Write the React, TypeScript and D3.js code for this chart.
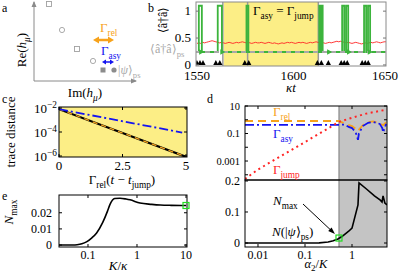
import React from "react";
import * as d3 from "d3";

const FONT = "'Liberation Serif', 'Times New Roman', serif";
const ORANGE = "#f7a21b";
const BLUE = "#1414f0";
const RED = "#ff2424";
const GREEN = "#3cb43c";
const YELLOW = "#fcee86";
const GRAYBG = "#c4c4c4";

// ---------- Panel a (schematic spectrum) ----------
const aOpenSquares: [number, number][] = [[1.5, 7.7], [4.3, 3.2]];
const aOpenCircles: [number, number][] = [[2.8, 5.1], [5.9, 2.0]];
const aPsSquare: [number, number] = [6.9, 1.1];
const aPsCircle: [number, number] = [8.0, 1.1];
const aRelArrow = [5.9, 8.0, 4.1];
const aAsyArrow = [6.8, 8.0, 1.9];

// ---------- Panel b (trajectory) ----------
const bXTicks = [1550, 1600, 1650];
const bYTicks = [0, 0.5, 1];
const bYTickLabels = ["0", "0.5", "1"];
const bPsLevel = 0.24;
const bYellowSpan = [1564.2, 1614.2];
const bGrayLines = [1563.7, 1576.8, 1614.2];
const bPulseStart = [1551.0, 1561.0, 1576.2, 1614.7, 1615.8, 1626.8, 1628.9, 1638.4, 1640.5];
const bPulseEnd = [1552.6, 1563.2, 1577.2, 1615.3, 1616.5, 1627.9, 1630.0, 1639.5, 1641.6];
const bPulseTop = 1.1;
const bGreenArrows = [1553.8, 1565.0, 1621.5, 1632.0, 1643.0];
const bJumpTimes = [1550.0, 1551.6, 1553.2, 1560.0, 1562.1, 1575.3, 1577.4, 1613.7, 1615.8, 1619.5, 1626.3, 1627.9, 1629.5, 1637.4, 1639.0, 1640.6];
const bRedStart = 1550;
const bRedStep = 1;
const bRedValues = [
  0.40, 0.41, 0.40, 0.42, 0.41, 0.42, 0.43, 0.44, 0.45, 0.44,
  0.43, 0.42, 0.41, 0.42, 0.41, 0.40, 0.41, 0.42, 0.41, 0.40,
  0.41, 0.42, 0.41, 0.42, 0.43, 0.42, 0.41, 0.42, 0.41, 0.40,
  0.41, 0.42, 0.41, 0.41, 0.42, 0.41, 0.40, 0.41, 0.42, 0.41,
  0.40, 0.41, 0.40, 0.39, 0.40, 0.41, 0.40, 0.41, 0.42, 0.41,
  0.42, 0.41, 0.40, 0.41, 0.42, 0.41, 0.42, 0.41, 0.40, 0.41,
  0.42, 0.41, 0.42, 0.43, 0.42, 0.41, 0.42, 0.41, 0.40, 0.41,
  0.42, 0.41, 0.42, 0.43, 0.44, 0.43, 0.44, 0.43, 0.42, 0.41,
  0.42, 0.41, 0.40, 0.41, 0.42, 0.41, 0.40, 0.39, 0.40, 0.41,
  0.40, 0.41, 0.42, 0.41, 0.42, 0.43, 0.42, 0.41, 0.42, 0.43,
  0.43,
];

// ---------- Panel c (trace distance) ----------
const cXTicks = [0, 2.5, 5];
const cXTickLabels = ["0", "2.5", "5"];
const cYTicks = [1e-2, 1e-4, 1e-6];
const cYTickExp = ["−2", "−4", "−6"];
const cBlack: [number, number][] = [[0, 8e-3], [5, 8.5e-7]];
const cOrange: [number, number][] = [[0, 8e-3], [5, 8.5e-7]];
const cBlue: [number, number][] = [[0, 8e-3], [4.85, 9e-5]];

// ---------- Panel d (rates and N vs alpha2/K) ----------
const dXTicks = [0.01, 0.1, 1];
const dXTickLabels = ["0.01", "0.1", "1"];
const dTopTicks = [10, 1, 0.1, 0.01, 0.001, 0.0001];
const dTopLabels: Record<string, string> = { "10": "10", "0.1": "0.1", "0.001": "0.001" };
const dBotTicks = [0, 0.1, 0.2];
const dBotTickLabels = ["0", "0.1", "0.2"];
const dGrayStart = 0.528;
const dRel: [number, number][] = [
  [0.00529, 0.81], [0.5, 0.81], [0.53, 0.81], [0.65, 0.6], [0.8, 0.45], [1.0, 0.35],
  [1.2, 0.22], [1.34, 0.15], [1.45, 0.22], [1.7, 0.4], [2.2, 0.65], [2.8, 0.75],
  [3.9, 0.55], [4.6, 0.4], [5.3, 0.65],
];
const dAsy: [number, number][] = [
  [0.00529, 0.42], [0.5, 0.42], [0.53, 0.42], [0.7, 0.45], [0.85, 0.3], [1.0, 0.25],
  [1.2, 0.12], [1.34, 0.035], [1.4, 0.1], [1.7, 0.35], [2.2, 0.6], [2.8, 0.7],
  [3.9, 0.5], [4.4, 0.25], [4.6, 0.12], [5.3, 0.5],
];
const dJump: [number, number][] = [
  [0.00529, 5e-5], [0.01, 2.4e-4], [0.03, 2.2e-3], [0.1, 2.4e-2], [0.3, 0.22],
  [0.53, 0.7], [1, 1.4], [2, 2.8], [5.55, 5.5],
];
const dNmax: [number, number][] = [
  [0.00529, 0], [0.15, 0], [0.2, 0.0005], [0.31, 0.003], [0.4, 0.007], [0.5, 0.013],
  [0.6, 0.02], [0.71, 0.029], [0.85, 0.038], [1.0, 0.048], [1.34, 0.123], [1.41, 0.194],
  [2.0, 0.175], [3.0, 0.152], [4.0, 0.138], [4.35, 0.132], [4.57, 0.152], [5.0, 0.129],
  [5.55, 0.123],
];
const dPsPoint: [number, number] = [0.528, 0.016];

// ---------- Panel e (Nmax vs K/kappa) ----------
const eXTicks = [0.1, 1, 10];
const eXTickLabels = ["0.1", "1", "10"];
const eYTicks = [0, 0.01, 0.02];
const eYTickLabels = ["0", "0.01", "0.02"];
const eCurve: [number, number][] = [
  [0.0256, 0], [0.05, 0], [0.06, 0.0002], [0.075, 0.0008], [0.093, 0.002], [0.12, 0.0045],
  [0.15, 0.0075], [0.2, 0.014], [0.25, 0.021], [0.28, 0.025], [0.35, 0.0288], [0.45, 0.029],
  [0.6, 0.0285], [0.72, 0.028], [1.15, 0.026], [2.0, 0.0252], [3, 0.0248], [5, 0.0246], [10, 0.0245],
];
const ePoint: [number, number] = [10, 0.0245];

type Part = { t: string; s?: "sub" | "sup"; i?: boolean };
function Rich(props: {
  x: number; y: number; parts: Part[]; size: number; fill?: string;
  anchor?: "start" | "middle" | "end"; transform?: string;
}) {
  const { x, y, parts, size, fill = "#000", anchor = "start", transform } = props;
  let cur = 0;
  const spans = parts.map((p, k) => {
    const target = p.s === "sub" ? size * 0.3 : p.s === "sup" ? -size * 0.42 : 0;
    const dy = target - cur;
    cur = target;
    return (
      <tspan key={k} dy={dy} fontSize={p.s ? size * 0.72 : size} fontStyle={p.i ? "italic" : "normal"}>
        {p.t}
      </tspan>
    );
  });
  return (
    <text x={x} y={y} fontSize={size} fill={fill} textAnchor={anchor} transform={transform}>
      {spans}
    </text>
  );
}

function tri(cx: number, cy: number, dirX: number, dirY: number, len: number, half: number) {
  const nx = -dirY, ny = dirX;
  const bx = cx - dirX * len, by = cy - dirY * len;
  return `M${cx},${cy}L${bx + nx * half},${by + ny * half}L${bx - nx * half},${by - ny * half}Z`;
}

export default function App() {
  // a
  const ax = d3.scaleLinear().domain([0, 10]).range([34, 134]);
  const ay = d3.scaleLinear().domain([0, 8]).range([81, 1]);

  // b
  const bx = d3.scaleLinear().domain([1549.5, 1650]).range([196, 386]);
  const by = d3.scaleLinear().domain([-0.02, 1.17]).range([66, 2]);
  const greenPts: [number, number][] = [[1549.5, bPsLevel]];
  bPulseStart.forEach((s, i) => {
    greenPts.push([s, bPsLevel], [s, bPulseTop], [bPulseEnd[i], bPulseTop], [bPulseEnd[i], bPsLevel]);
  });
  greenPts.push([1650, bPsLevel]);
  const bLine = d3.line<[number, number]>().x((d) => bx(d[0])).y((d) => by(d[1]));
  const redLine = d3
    .line<number>()
    .x((_, i) => bx(bRedStart + i * bRedStep))
    .y((v) => by(v));

  // c
  const cx = d3.scaleLinear().domain([0, 5]).range([59, 186]);
  const cy = d3.scaleLog().domain([1e-6, 1e-2]).range([156, 108]);
  const cLine = d3.line<[number, number]>().x((d) => cx(d[0])).y((d) => cy(d[1]));

  // d
  const dx = d3.scaleLog().domain([0.00529, 5.55]).range([245, 387]);
  const dyTop = d3.scaleLog().domain([4.17e-5, 10]).range([180, 106]);
  const dyBot = d3.scaleLinear().domain([-0.0129, 0.2032]).range([247, 180]);
  const dTopLine = d3.line<[number, number]>().x((d) => dx(d[0])).y((d) => dyTop(d[1]));
  const dBotLine = d3.line<[number, number]>().x((d) => dx(d[0])).y((d) => dyBot(d[1]));

  // e
  const ex = d3.scaleLog().domain([0.0256, 10.48]).range([59, 187]);
  const ey = d3.scaleLinear().domain([-0.0012, 0.031]).range([247, 195]);
  const eLine = d3
    .line<[number, number]>()
    .x((d) => ex(d[0]))
    .y((d) => ey(d[1]))
    .curve(d3.curveMonotoneX);

  const axGray = "#8a8a8a";
  const ptGray = "#a0a0a0";

  // annotation arrow in d
  const annFrom = [303, 204];
  const annTo = [dx(dPsPoint[0]) - 4, dyBot(dPsPoint[1]) - 4];
  const adx = annTo[0] - annFrom[0], ady = annTo[1] - annFrom[1];
  const alen = Math.hypot(adx, ady);
  const ux = adx / alen, uy = ady / alen;

  return (
    <svg
      width={399}
      height={273}
      style={{ position: "absolute", left: 0, top: 0, background: "#fff" }}
      fontFamily={FONT}
    >
      <defs>
        <clipPath id="clipB"><rect x={196} y={2} width={190} height={64} /></clipPath>
        <clipPath id="clipC"><rect x={59} y={107} width={128} height={50} /></clipPath>
        <clipPath id="clipDT"><rect x={245} y={106} width={142} height={74} /></clipPath>
        <clipPath id="clipDB"><rect x={245} y={180} width={142} height={67} /></clipPath>
        <clipPath id="clipE"><rect x={59} y={195} width={128} height={52} /></clipPath>
      </defs>

      {/* ===== Panel a ===== */}
      <text x={2} y={12} fontSize={12}>a</text>
      <line x1={ax(0)} y1={ay(0)} x2={ax(0)} y2={ay(7.9)} stroke={axGray} strokeWidth={1} />
      <path d={tri(ax(0), ay(8.0), 0, -1, 6, 2.5)} fill={axGray} />
      <line x1={ax(0)} y1={ay(0)} x2={ax(10.2)} y2={ay(0)} stroke={axGray} strokeWidth={1} />
      <path d={tri(ax(10.3), ay(0), 1, 0, 6, 2.5)} fill={axGray} />
      {aOpenSquares.map((p, i) => (
        <rect key={"s" + i} x={ax(p[0]) - 2.5} y={ay(p[1]) - 2.5} width={5} height={5} fill="none" stroke={ptGray} strokeWidth={0.9} />
      ))}
      {aOpenCircles.map((p, i) => (
        <circle key={"c" + i} cx={ax(p[0])} cy={ay(p[1])} r={2.6} fill="none" stroke={ptGray} strokeWidth={0.9} />
      ))}
      <rect x={ax(aPsSquare[0]) - 2.5} y={ay(aPsSquare[1]) - 2.5} width={5} height={5} fill="#8c8c8c" />
      <circle cx={ax(aPsCircle[0])} cy={ay(aPsCircle[1])} r={2.6} fill="#8c8c8c" />
      {/* Gamma_rel arrow */}
      <line x1={ax(aRelArrow[0]) + 4} y1={ay(aRelArrow[2])} x2={ax(aRelArrow[1]) - 4} y2={ay(aRelArrow[2])} stroke={ORANGE} strokeWidth={2.5} />
      <path d={tri(ax(aRelArrow[0]), ay(aRelArrow[2]), -1, 0, 6, 3.5)} fill={ORANGE} />
      <path d={tri(ax(aRelArrow[1]), ay(aRelArrow[2]), 1, 0, 6, 3.5)} fill={ORANGE} />
      <Rich x={100} y={32} size={13} fill={ORANGE} parts={[{ t: "Γ" }, { t: "rel", s: "sub" }]} />
      {/* Gamma_asy arrow */}
      <line x1={ax(aAsyArrow[0]) + 3} y1={ay(aAsyArrow[2])} x2={ax(aAsyArrow[1]) - 3} y2={ay(aAsyArrow[2])} stroke={BLUE} strokeWidth={1.5} />
      <path d={tri(ax(aAsyArrow[0]), ay(aAsyArrow[2]), -1, 0, 4, 2.5)} fill={BLUE} />
      <path d={tri(ax(aAsyArrow[1]), ay(aAsyArrow[2]), 1, 0, 4, 2.5)} fill={BLUE} />
      <Rich x={101} y={55} size={13} fill={BLUE} parts={[{ t: "Γ" }, { t: "asy", s: "sub" }]} />
      <Rich x={118} y={74} size={12} fill="#aaaaaa" parts={[{ t: "|" }, { t: "ψ", i: true }, { t: "⟩" }, { t: "ps", s: "sub" }]} />
      <Rich x={26} y={50} size={13} anchor="middle" transform="rotate(-90 26 50)"
        parts={[{ t: "Re(" }, { t: "h", i: true }, { t: "μ", s: "sub", i: true }, { t: ")" }]} />
      <Rich x={85} y={97} size={13} anchor="middle"
        parts={[{ t: "Im(" }, { t: "h", i: true }, { t: "μ", s: "sub", i: true }, { t: ")" }]} />

      {/* ===== Panel b ===== */}
      <text x={148} y={12} fontSize={12}>b</text>
      <rect x={bx(bYellowSpan[0])} y={2} width={bx(bYellowSpan[1]) - bx(bYellowSpan[0])} height={64} fill={YELLOW} />
      {bGrayLines.map((t, i) => (
        <line key={i} x1={bx(t)} x2={bx(t)} y1={2} y2={66} stroke="#9a9a9a" strokeWidth={1.5} />
      ))}
      <g clipPath="url(#clipB)">
        <path d={redLine(bRedValues) || ""} fill="none" stroke={RED} strokeWidth={0.9} />
        <path d={bLine(greenPts) || ""} fill="none" stroke={GREEN} strokeWidth={1.8} strokeLinejoin="miter" />
        <line x1={196} x2={386} y1={by(bPsLevel)} y2={by(bPsLevel)} stroke="#a8a8a8" strokeWidth={2} strokeDasharray="5,4" />
        {bGreenArrows.map((t, i) => (
          <path key={i} d={tri(bx(t), by(bPsLevel), 1, 0, 5, 2.8)} fill={GREEN} />
        ))}
        {bJumpTimes.map((t, i) => (
          <path key={i} d={tri(bx(t), 60, 0, -1, 5, 2.6)} fill="#000" />
        ))}
      </g>
      <rect x={196} y={2} width={190} height={64} fill="none" stroke="#8a8a8a" strokeWidth={1} />
      {bYTicks.map((v, i) => (
        <g key={i}>
          <line x1={196} x2={199} y1={by(v)} y2={by(v)} stroke="#777" />
          <line x1={383} x2={386} y1={by(v)} y2={by(v)} stroke="#777" />
          <text x={191} y={by(v) + 4} fontSize={13} textAnchor="end">{bYTickLabels[i]}</text>
        </g>
      ))}
      {bXTicks.map((v, i) => (
        <text key={i} x={bx(v) + (i === 0 ? 0 : i === 1 ? 2 : -1)} y={79.5} fontSize={13} textAnchor="middle">{v}</text>
      ))}
      <Rich x={291} y={92} size={13} anchor="middle" parts={[{ t: "κt", i: true }]} />
      <Rich x={253} y={15} size={13}
        parts={[{ t: "Γ" }, { t: "asy", s: "sub" }, { t: " = Γ" }, { t: "jump", s: "sub" }]} />
      <text x={167} y={20} fontSize={12} textAnchor="middle" transform="rotate(-90 167 20)">⟨â†â⟩</text>
      <Rich x={150} y={53} size={12} fill="#a8a8a8" parts={[{ t: "⟨â†â⟩" }, { t: "ps", s: "sub" }]} />

      {/* ===== Panel c ===== */}
      <text x={2} y={103} fontSize={12}>c</text>
      <rect x={59} y={107} width={128} height={50} fill={YELLOW} />
      <g clipPath="url(#clipC)">
        <path d={cLine(cBlack) || ""} fill="none" stroke="#000" strokeWidth={2.2} />
        <path d={cLine(cOrange) || ""} fill="none" stroke={ORANGE} strokeWidth={1.3} strokeDasharray="5,4" />
        <path d={cLine(cBlue) || ""} fill="none" stroke={BLUE} strokeWidth={1.8} strokeDasharray="9,3,2,3" />
      </g>
      <rect x={59} y={107} width={128} height={50} fill="none" stroke="#000" strokeWidth={1} />
      {cXTicks.map((v, i) => (
        <g key={i}>
          <line x1={cx(v)} x2={cx(v)} y1={157} y2={154} stroke="#000" />
          <line x1={cx(v)} x2={cx(v)} y1={107} y2={110} stroke="#000" />
          <text x={cx(v)} y={170} fontSize={13} textAnchor="middle">{cXTickLabels[i]}</text>
        </g>
      ))}
      {cYTicks.map((v, i) => (
        <g key={i}>
          <line x1={59} x2={62} y1={cy(v)} y2={cy(v)} stroke="#000" />
          <line x1={184} x2={187} y1={cy(v)} y2={cy(v)} stroke="#000" />
          <Rich x={57} y={cy(v) + 5} size={13} anchor="end" parts={[{ t: "10" }, { t: cYTickExp[i], s: "sup" }]} />
        </g>
      ))}
      <Rich x={122} y={184} size={13} anchor="middle"
        parts={[{ t: "Γ" }, { t: "rel", s: "sub" }, { t: "(" }, { t: "t", i: true }, { t: " − " }, { t: "t", i: true }, { t: "jump", s: "sub" }, { t: ")" }]} />
      <text x={15} y={132} fontSize={13} textAnchor="middle" transform="rotate(-90 15 132)">trace distance</text>

      {/* ===== Panel d ===== */}
      <text x={207} y={103} fontSize={12}>d</text>
      <rect x={dx(dGrayStart)} y={106} width={387 - dx(dGrayStart)} height={141} fill={GRAYBG} />
      <line x1={dx(dGrayStart)} x2={dx(dGrayStart)} y1={106} y2={247} stroke="#777" strokeWidth={1} />
      <g clipPath="url(#clipDT)">
        <path d={dTopLine(dRel) || ""} fill="none" stroke={ORANGE} strokeWidth={1.8} strokeDasharray="8,5" />
        <path d={dTopLine(dAsy) || ""} fill="none" stroke={BLUE} strokeWidth={1.8} strokeDasharray="9,3,2,3" />
        <path d={dTopLine(dJump) || ""} fill="none" stroke={RED} strokeWidth={2} strokeDasharray="2,3.5" />
      </g>
      <g clipPath="url(#clipDB)">
        <path d={dBotLine(dNmax) || ""} fill="none" stroke="#000" strokeWidth={1.6} />
      </g>
      <rect x={245} y={106} width={142} height={74} fill="none" stroke="#000" strokeWidth={1} />
      <rect x={245} y={180} width={142} height={67} fill="none" stroke="#000" strokeWidth={1} />
      {dTopTicks.map((v, i) => (
        <g key={i}>
          <line x1={245} x2={248} y1={dyTop(v)} y2={dyTop(v)} stroke="#000" />
          <line x1={384} x2={387} y1={dyTop(v)} y2={dyTop(v)} stroke="#000" />
          {dTopLabels[String(v)] && (
            <text x={240} y={dyTop(v) + 3.5} fontSize={10.5} textAnchor="end">{dTopLabels[String(v)]}</text>
          )}
        </g>
      ))}
      {dBotTicks.map((v, i) => (
        <g key={i}>
          <line x1={245} x2={248} y1={dyBot(v)} y2={dyBot(v)} stroke="#000" />
          <line x1={384} x2={387} y1={dyBot(v)} y2={dyBot(v)} stroke="#000" />
          <text x={240} y={dyBot(v) + 4} fontSize={12} textAnchor="end">{dBotTickLabels[i]}</text>
        </g>
      ))}
      {dXTicks.map((v, i) => (
        <g key={i}>
          <line x1={dx(v)} x2={dx(v)} y1={247} y2={244} stroke="#000" />
          <line x1={dx(v)} x2={dx(v)} y1={106} y2={109} stroke="#000" />
          <text x={dx(v)} y={259} fontSize={12} textAnchor="middle">{dXTickLabels[i]}</text>
        </g>
      ))}
      <Rich x={316} y={267.5} size={12.5} anchor="middle" parts={[{ t: "α", i: true }, { t: "2", s: "sub" }, { t: "/" }, { t: "K", i: true }]} />
      <Rich x={273} y={116} size={13} fill={ORANGE} parts={[{ t: "Γ" }, { t: "rel", s: "sub" }]} />
      <Rich x={273} y={138} size={13} fill={BLUE} parts={[{ t: "Γ" }, { t: "asy", s: "sub" }]} />
      <Rich x={273} y={174} size={13} fill={RED} parts={[{ t: "Γ" }, { t: "jump", s: "sub" }]} />
      <Rich x={273} y={205} size={13} parts={[{ t: "N", i: true }, { t: "max", s: "sub" }]} />
      <Rich x={272} y={236} size={13}
        parts={[{ t: "N", i: true }, { t: "(|" }, { t: "ψ", i: true }, { t: "⟩" }, { t: "ps", s: "sub" }, { t: ")" }]} />
      <line x1={annFrom[0]} y1={annFrom[1]} x2={annTo[0] - ux * 5} y2={annTo[1] - uy * 5} stroke="#000" strokeWidth={1} />
      <path d={tri(annTo[0], annTo[1], ux, uy, 7, 2.5)} fill="#000" />
      <rect x={dx(dPsPoint[0]) - 3} y={dyBot(dPsPoint[1]) - 3} width={6} height={6} fill="none" stroke="#22dd22" strokeWidth={1.2} />

      {/* ===== Panel e ===== */}
      <text x={2} y={200} fontSize={12}>e</text>
      <g clipPath="url(#clipE)">
        <path d={eLine(eCurve) || ""} fill="none" stroke="#000" strokeWidth={1.6} />
      </g>
      <rect x={59} y={195} width={128} height={52} fill="none" stroke="#000" strokeWidth={1} />
      {eYTicks.map((v, i) => (
        <g key={i}>
          <line x1={59} x2={62} y1={ey(v)} y2={ey(v)} stroke="#000" />
          <line x1={184} x2={187} y1={ey(v)} y2={ey(v)} stroke="#000" />
          <text x={52} y={ey(v) + 4} fontSize={12} textAnchor="end">{eYTickLabels[i]}</text>
        </g>
      ))}
      {eXTicks.map((v, i) => (
        <g key={i}>
          <line x1={ex(v)} x2={ex(v)} y1={247} y2={244} stroke="#000" />
          <line x1={ex(v)} x2={ex(v)} y1={195} y2={198} stroke="#000" />
          <text x={ex(v)} y={259} fontSize={12} textAnchor="middle">{eXTickLabels[i]}</text>
        </g>
      ))}
      <rect x={ex(ePoint[0]) - 3} y={ey(ePoint[1]) - 3} width={6} height={6} fill="none" stroke="#22dd22" strokeWidth={1.2} />
      <Rich x={118} y={269.5} size={13} anchor="middle" parts={[{ t: "K", i: true }, { t: "/" }, { t: "κ", i: true }]} />
      <Rich x={13} y={212} size={13} anchor="middle" transform="rotate(-90 13 212)"
        parts={[{ t: "N", i: true }, { t: "max", s: "sub" }]} />
    </svg>
  );
}
